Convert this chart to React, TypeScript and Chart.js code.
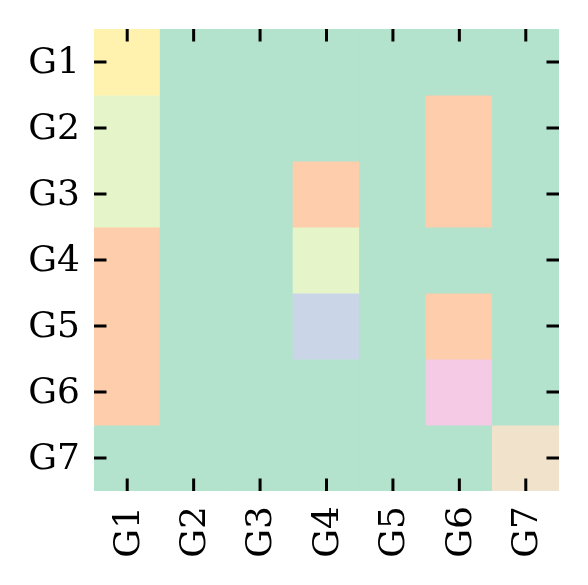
import React, { useEffect, useRef } from "react";
import { Chart, registerables } from "chart.js";

Chart.register(...registerables);

const groupLabels = ["G1", "G2", "G3", "G4", "G5", "G6", "G7"];

// category index per cell (Pastel2 palette index), one array per row
const rowG1 = [5, 0, 0, 0, 0, 0, 0];
const rowG2 = [4, 0, 0, 0, 0, 1, 0];
const rowG3 = [4, 0, 0, 1, 0, 1, 0];
const rowG4 = [1, 0, 0, 4, 0, 0, 0];
const rowG5 = [1, 0, 0, 2, 0, 1, 0];
const rowG6 = [1, 0, 0, 0, 0, 3, 0];
const rowG7 = [0, 0, 0, 0, 0, 0, 6];
const rows = [rowG1, rowG2, rowG3, rowG4, rowG5, rowG6, rowG7];

const palette = [
  "#b3e2cd",
  "#fdcdac",
  "#cbd5e8",
  "#f4cae4",
  "#e6f5c9",
  "#fff2ae",
  "#f1e2cc",
  "#cccccc",
];

const FONT = { family: "'DejaVu Serif', serif", size: 36 };

const innerTicks = {
  id: "innerTicks",
  afterDatasetsDraw(chart: any) {
    const { ctx, chartArea, scales } = chart;
    const { left, right, top, bottom } = chartArea;
    const L = 12.5;
    ctx.save();
    ctx.strokeStyle = "#000";
    ctx.lineWidth = 3;
    ctx.beginPath();
    groupLabels.forEach((_, i) => {
      const px = scales.x.getPixelForValue(i);
      ctx.moveTo(px, bottom);
      ctx.lineTo(px, bottom - L);
      ctx.moveTo(px, top);
      ctx.lineTo(px, top + L);
      const py = scales.y.getPixelForValue(i);
      ctx.moveTo(left, py);
      ctx.lineTo(left + L, py);
      ctx.moveTo(right, py);
      ctx.lineTo(right - L, py);
    });
    ctx.stroke();
    ctx.restore();
  },
};

export default function App() {
  const canvasRef = useRef<HTMLCanvasElement | null>(null);

  useEffect(() => {
    if (!canvasRef.current) return;
    const datasets = rows.map((row, r) => ({
      label: groupLabels[r],
      data: groupLabels.map(() => [r - 0.5, r + 0.5]),
      backgroundColor: row.map((v) => palette[v]),
      borderWidth: 0,
      barPercentage: 1,
      categoryPercentage: 1,
      grouped: false,
      inflateAmount: 0.6,
    }));
    const chart = new Chart(canvasRef.current, {
      type: "bar",
      data: { labels: groupLabels, datasets: datasets as any },
      options: {
        animation: false,
        responsive: true,
        maintainAspectRatio: false,
        layout: { padding: { top: 29, right: 29, left: 0, bottom: 0 } },
        plugins: { legend: { display: false }, tooltip: { enabled: false } },
        scales: {
          x: {
            type: "category",
            offset: true,
            grid: { display: false, drawTicks: false },
            border: { display: false },
            ticks: {
              color: "#000",
              font: FONT,
              minRotation: 90,
              maxRotation: 90,
              padding: 15,
              labelOffset: 2,
            },
            afterFit: (s: any) => {
              s.height = 94;
              s.paddingLeft = 0;
              s.paddingRight = 0;
            },
          },
          y: {
            type: "linear",
            reverse: true,
            min: -0.5,
            max: 6.5,
            grid: { display: false, drawTicks: false },
            border: { display: false },
            ticks: {
              color: "#000",
              font: FONT,
              padding: 14,
              labelOffset: 2,
              callback: (v: any) => groupLabels[Math.round(Number(v))] ?? "",
            },
            afterBuildTicks: (s: any) => {
              s.ticks = groupLabels.map((_, i) => ({ value: i }));
            },
            afterFit: (s: any) => {
              s.width = 94;
              s.paddingTop = 0;
              s.paddingBottom = 0;
            },
          },
        },
      },
      plugins: [innerTicks],
    });
    return () => chart.destroy();
  }, []);

  return (
    <div style={{ position: "absolute", left: 0, top: 0, width: 588, height: 585, background: "#fff" }}>
      <canvas ref={canvasRef} />
    </div>
  );
}
